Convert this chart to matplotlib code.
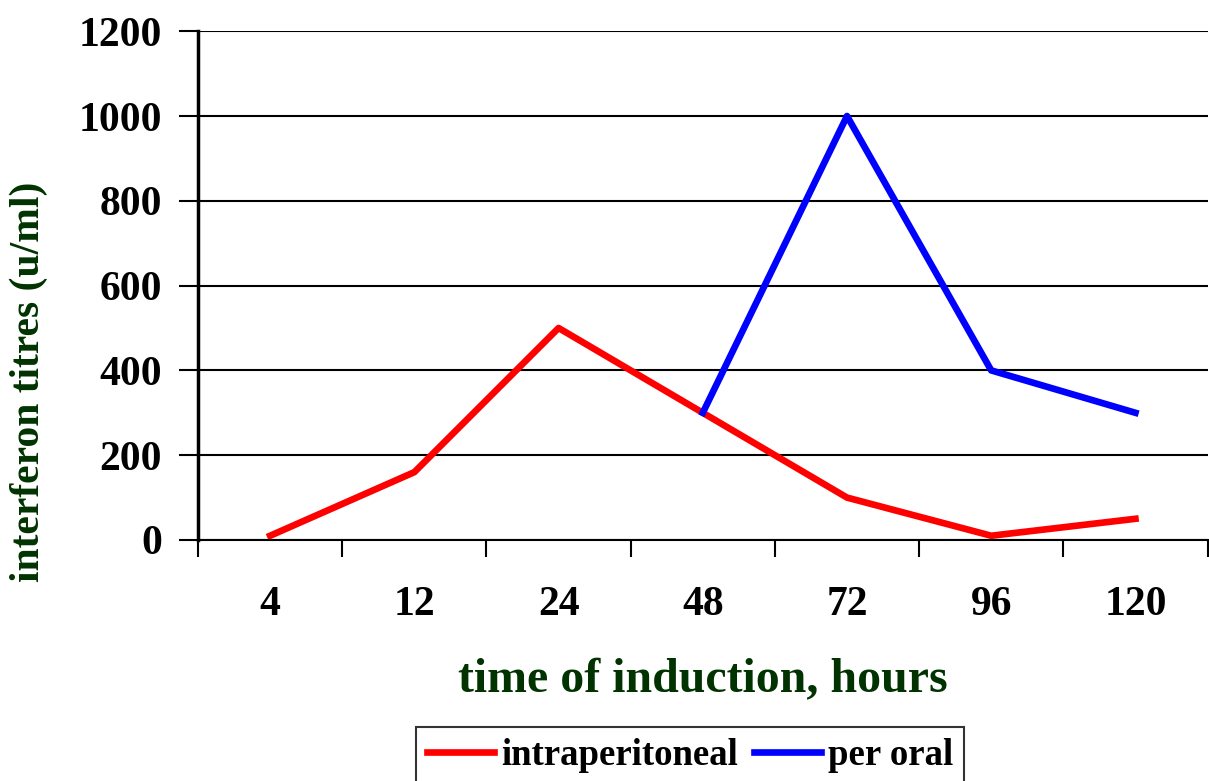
import numpy as np
import matplotlib.pyplot as plt

# Donnees
hours = ["4", "12", "24", "48", "72", "96", "120"]
intraperitoneal = [10, 160, 500, 300, 100, 10, 50]
per_oral = [np.nan, np.nan, np.nan, 300, 1000, 400, 300]

plt.rcParams['font.family'] = ['Liberation Serif', 'DejaVu Serif']
plt.rcParams['font.weight'] = 'bold'

fig = plt.figure(figsize=(12.09, 7.81), dpi=100)
ax = fig.add_axes([0.1638, 0.3086, 0.835, 0.6514])

x = np.arange(len(hours))
ax.plot(x, intraperitoneal, color='#ff0000', lw=4.8, label="intraperitoneal")
ax.plot(x, per_oral, color='#0000ff', lw=4.8, label="per oral")

ax.set_xlim(-0.5, len(hours) - 0.5)
ax.set_ylim(0, 1200)
ax.set_yticks(np.arange(0, 1201, 200))
ax.yaxis.grid(True, color='black', lw=1.5)
ax.set_axisbelow(True)

# ticks aux limites des categories, etiquettes au centre
ax.set_xticks(np.arange(len(hours) + 1) - 0.5)
ax.set_xticklabels([])
ax.set_xticks(x, minor=True)
ax.set_xticklabels(hours, minor=True, fontsize=30, fontweight='bold')
ax.tick_params(axis='x', which='major', length=12, width=1.5, direction='out')
ax.tick_params(axis='x', which='minor', length=0, pad=33)
ax.tick_params(axis='y', length=14, width=1.5, direction='out', labelsize=30, pad=12)
for lab in ax.get_yticklabels():
    lab.set_fontweight('bold')

ax.spines['top'].set_visible(False)
ax.spines['right'].set_visible(False)
ax.spines['left'].set_linewidth(2.5)
ax.spines['bottom'].set_linewidth(1.5)

ax.set_xlabel("time of induction, hours", fontsize=34.5, fontweight='bold',
              color='#003300', labelpad=25)
ax.set_ylabel("interferon titres (u/ml)", fontsize=30, fontweight='bold',
              color='#003300')
ax.yaxis.set_label_coords(-0.1485, 0.31)

leg = fig.legend(loc='upper center', bbox_to_anchor=(0.571, 0.069), ncol=2,
                 frameon=True, fancybox=False, edgecolor='black',
                 prop={'size': 26.5, 'weight': 'bold'}, handlelength=1.8,
                 handletextpad=0.2, columnspacing=0.45, borderpad=0.3,
                 borderaxespad=0)
leg.get_frame().set_linewidth(1.5)

plt.savefig("out.png", dpi=100)
